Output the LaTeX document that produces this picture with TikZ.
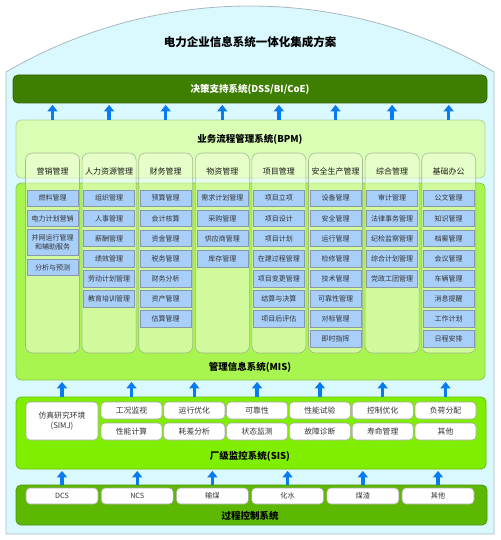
\documentclass[tikz,border=0pt]{standalone}
\usepackage{fontspec}
\setmainfont{Noto Sans CJK SC}
\usetikzlibrary{arrows.meta}
\definecolor{outerfill}{HTML}{DAF9FF}
\definecolor{outerline}{HTML}{A8B8C0}
\definecolor{dssfill}{HTML}{3E7E00}
\definecolor{bpmfill}{HTML}{D8FFB4}
\definecolor{bpmline}{HTML}{B4D49A}
\definecolor{misfill}{HTML}{A8F550}
\definecolor{misline}{HTML}{8CCB48}
\definecolor{colfill}{HTML}{F2FFDC}
\definecolor{colline}{HTML}{9AA88A}
\definecolor{itemfill}{HTML}{A8CFFA}
\definecolor{itemline}{HTML}{8898A8}
\definecolor{itemtext}{HTML}{333333}
\definecolor{sisfill}{HTML}{80EE00}
\definecolor{sisline}{HTML}{66C000}
\definecolor{pcsfill}{HTML}{5CB800}
\definecolor{pcsline}{HTML}{4C9800}
\definecolor{arrowblue}{HTML}{0A7AF0}
\definecolor{whiteline}{HTML}{A8A8A8}
\newcommand\colX[1]{52.5+56.6*(#1-1)}
\newcommand\mi[3]{\node[item] (m#1-#2) at ({\colX{#1}},{198.3+20.1*(#2-1)}) {#3};}
\newcommand\mh[2]{\node[colhead] (h#1) at ({\colX{#1}},171) {#2};}
\newcommand\mcol[1]{\node[colbox] (col#1) at ({\colX{#1}},253) {};}
\begin{document}
\begin{tikzpicture}[x=1pt,y=-1pt,
  layer/.style={rounded corners=5pt, inner sep=0pt, line width=0.8pt},
  ltitle/.style={font=\fontsize{9.5}{11}\selectfont\bfseries, text=black},
  colbox/.style={draw=colline, fill=colfill, fill opacity=0.55, draw opacity=0.8, rounded corners=7pt, minimum width=54pt, minimum height=200pt, inner sep=0pt, line width=0.6pt},
  colhead/.style={font=\fontsize{8}{9}\selectfont, text=black!90, inner sep=0pt},
  item/.style={draw=itemline, fill=itemfill, minimum width=51pt, minimum height=16.5pt, inner sep=0pt, line width=0.6pt, font=\fontsize{7}{8}\selectfont, text=itemtext},
  wbox/.style={draw=whiteline, fill=white, rounded corners=4pt, inner sep=0pt, line width=0.6pt, font=\fontsize{7.8}{9.5}\selectfont, text=itemtext, align=center},
  uparrow/.style={arrowblue, line width=3.4pt, -{Triangle[length=6.5pt,width=10pt]}}]
\useasboundingbox (0,0) rectangle (500,540);
\fill[white] (0,0) rectangle (500,540);
\draw[outerline, fill=outerfill, line width=0.8pt] (6,534) -- (6,72) .. controls (157,-16) and (343,-16) .. (494,72) -- (494,534) -- cycle;
\node[font=\fontsize{11.5}{13}\selectfont\bfseries] (title) at (250,42) {电力企业信息系统一体化集成方案};
% DSS
\node[layer, draw=dssfill!80!black, fill=dssfill, minimum width=474pt, minimum height=28pt, text=white, font=\fontsize{9.5}{11}\selectfont\bfseries] (dss) at (250,89) {决策支持系统(DSS/BI/CoE)};
% BPM and MIS
\node[layer, draw=bpmline, fill=bpmfill, minimum width=469pt, minimum height=58pt] (bpm) at (250.5,149) {};
\node[ltitle] (bpmt) at (250,139) {业务流程管理系统(BPM)};
\node[layer, draw=misline, fill=misfill, minimum width=469pt, minimum height=197pt] (mis) at (250.5,281.5) {};
\node[ltitle] (mist) at (250,367) {管理信息系统(MIS)};
% columns
\foreach \i in {1,...,8} {\mcol{\i}}
\mh{1}{营销管理}\mh{2}{人力资源管理}\mh{3}{财务管理}\mh{4}{物资管理}
\mh{5}{项目管理}\mh{6}{安全生产管理}\mh{7}{综合管理}\mh{8}{基础办公}
% column 1
\mi{1}{1}{燃料管理}\mi{1}{2}{电力计划营销}
\node[item, minimum height=26pt, align=center, font=\fontsize{7}{9}\selectfont] (m1-3) at ({\colX{1}},242) {并网运行管理\\和辅助服务};
\node[item] (m1-4) at ({\colX{1}},267.5) {分析与预测};
% column 2
\mi{2}{1}{组织管理}\mi{2}{2}{人事管理}\mi{2}{3}{薪酬管理}\mi{2}{4}{绩效管理}\mi{2}{5}{劳动计划管理}\mi{2}{6}{教育培训管理}
% column 3
\mi{3}{1}{预算管理}\mi{3}{2}{会计核算}\mi{3}{3}{资金管理}\mi{3}{4}{税务管理}\mi{3}{5}{财务分析}\mi{3}{6}{资产管理}\mi{3}{7}{估算管理}
% column 4
\mi{4}{1}{需求计划管理}\mi{4}{2}{采购管理}\mi{4}{3}{供应商管理}\mi{4}{4}{库存管理}
% column 5
\mi{5}{1}{项目立项}\mi{5}{2}{项目设计}\mi{5}{3}{项目计划}\mi{5}{4}{在建过程管理}\mi{5}{5}{项目变更管理}\mi{5}{6}{结算与决算}\mi{5}{7}{项目后评估}
% column 6
\mi{6}{1}{设备管理}\mi{6}{2}{安全管理}\mi{6}{3}{运行管理}\mi{6}{4}{检修管理}\mi{6}{5}{技术管理}\mi{6}{6}{可靠性管理}\mi{6}{7}{对标管理}\mi{6}{8}{即时指挥}
% column 7
\mi{7}{1}{审计管理}\mi{7}{2}{法律事务管理}\mi{7}{3}{纪检监察管理}\mi{7}{4}{综合计划管理}\mi{7}{5}{党政工团管理}
% column 8
\mi{8}{1}{公文管理}\mi{8}{2}{知识管理}\mi{8}{3}{档案管理}\mi{8}{4}{会议管理}\mi{8}{5}{车辆管理}\mi{8}{6}{消息提醒}\mi{8}{7}{工作计划}\mi{8}{8}{日程安排}
% SIS
\node[layer, draw=sisline, fill=sisfill, minimum width=470pt, minimum height=72pt] (sis) at (251,433) {};
\node[ltitle] (sist) at (250,456) {厂级监控系统(SIS)};
\node[wbox, minimum width=72pt, minimum height=38pt] (s0) at (62,421) {仿真研究环境\\(SIMJ)};
\foreach \t [count=\j] in {工况监视,运行优化,可靠性,性能试验,控制优化,负荷分配}
  \node[wbox, minimum width=61pt, minimum height=17pt] (s\j) at ({131.5+62.8*(\j-1)},410.5) {\t};
\foreach \t [count=\j] in {性能计算,耗差分析,状态监测,故障诊断,寿命管理,其他}
  \node[wbox, minimum width=61pt, minimum height=17pt] (t\j) at ({131.5+62.8*(\j-1)},431.5) {\t};
% process control
\node[layer, draw=pcsline, fill=pcsfill, minimum width=471pt, minimum height=40pt] (pcs) at (251.5,505) {};
\node[ltitle] (pcst) at (250,516) {过程控制系统};
\foreach \t [count=\j] in {DCS,NCS,输煤,化水,煤渣,其他}
  \node[wbox, minimum width=72pt, minimum height=16pt, font=\fontsize{7.2}{8}\selectfont] (b\j) at ({62+75.2*(\j-1)},496) {\t};
% arrows
\foreach \i in {1,...,8}
  \draw[uparrow] (bpm.north -| col\i) -- ([yshift=-1.5pt]dss.south -| col\i);
\foreach \j in {0,...,6}
  \draw[uparrow] (sis.north -| s\j) -- ([yshift=-1.5pt]mis.south -| s\j);
\foreach \j in {1,...,6}
  \draw[uparrow] (pcs.north -| b\j) -- ([yshift=-1.5pt]sis.south -| b\j);
\end{tikzpicture}
\end{document}
